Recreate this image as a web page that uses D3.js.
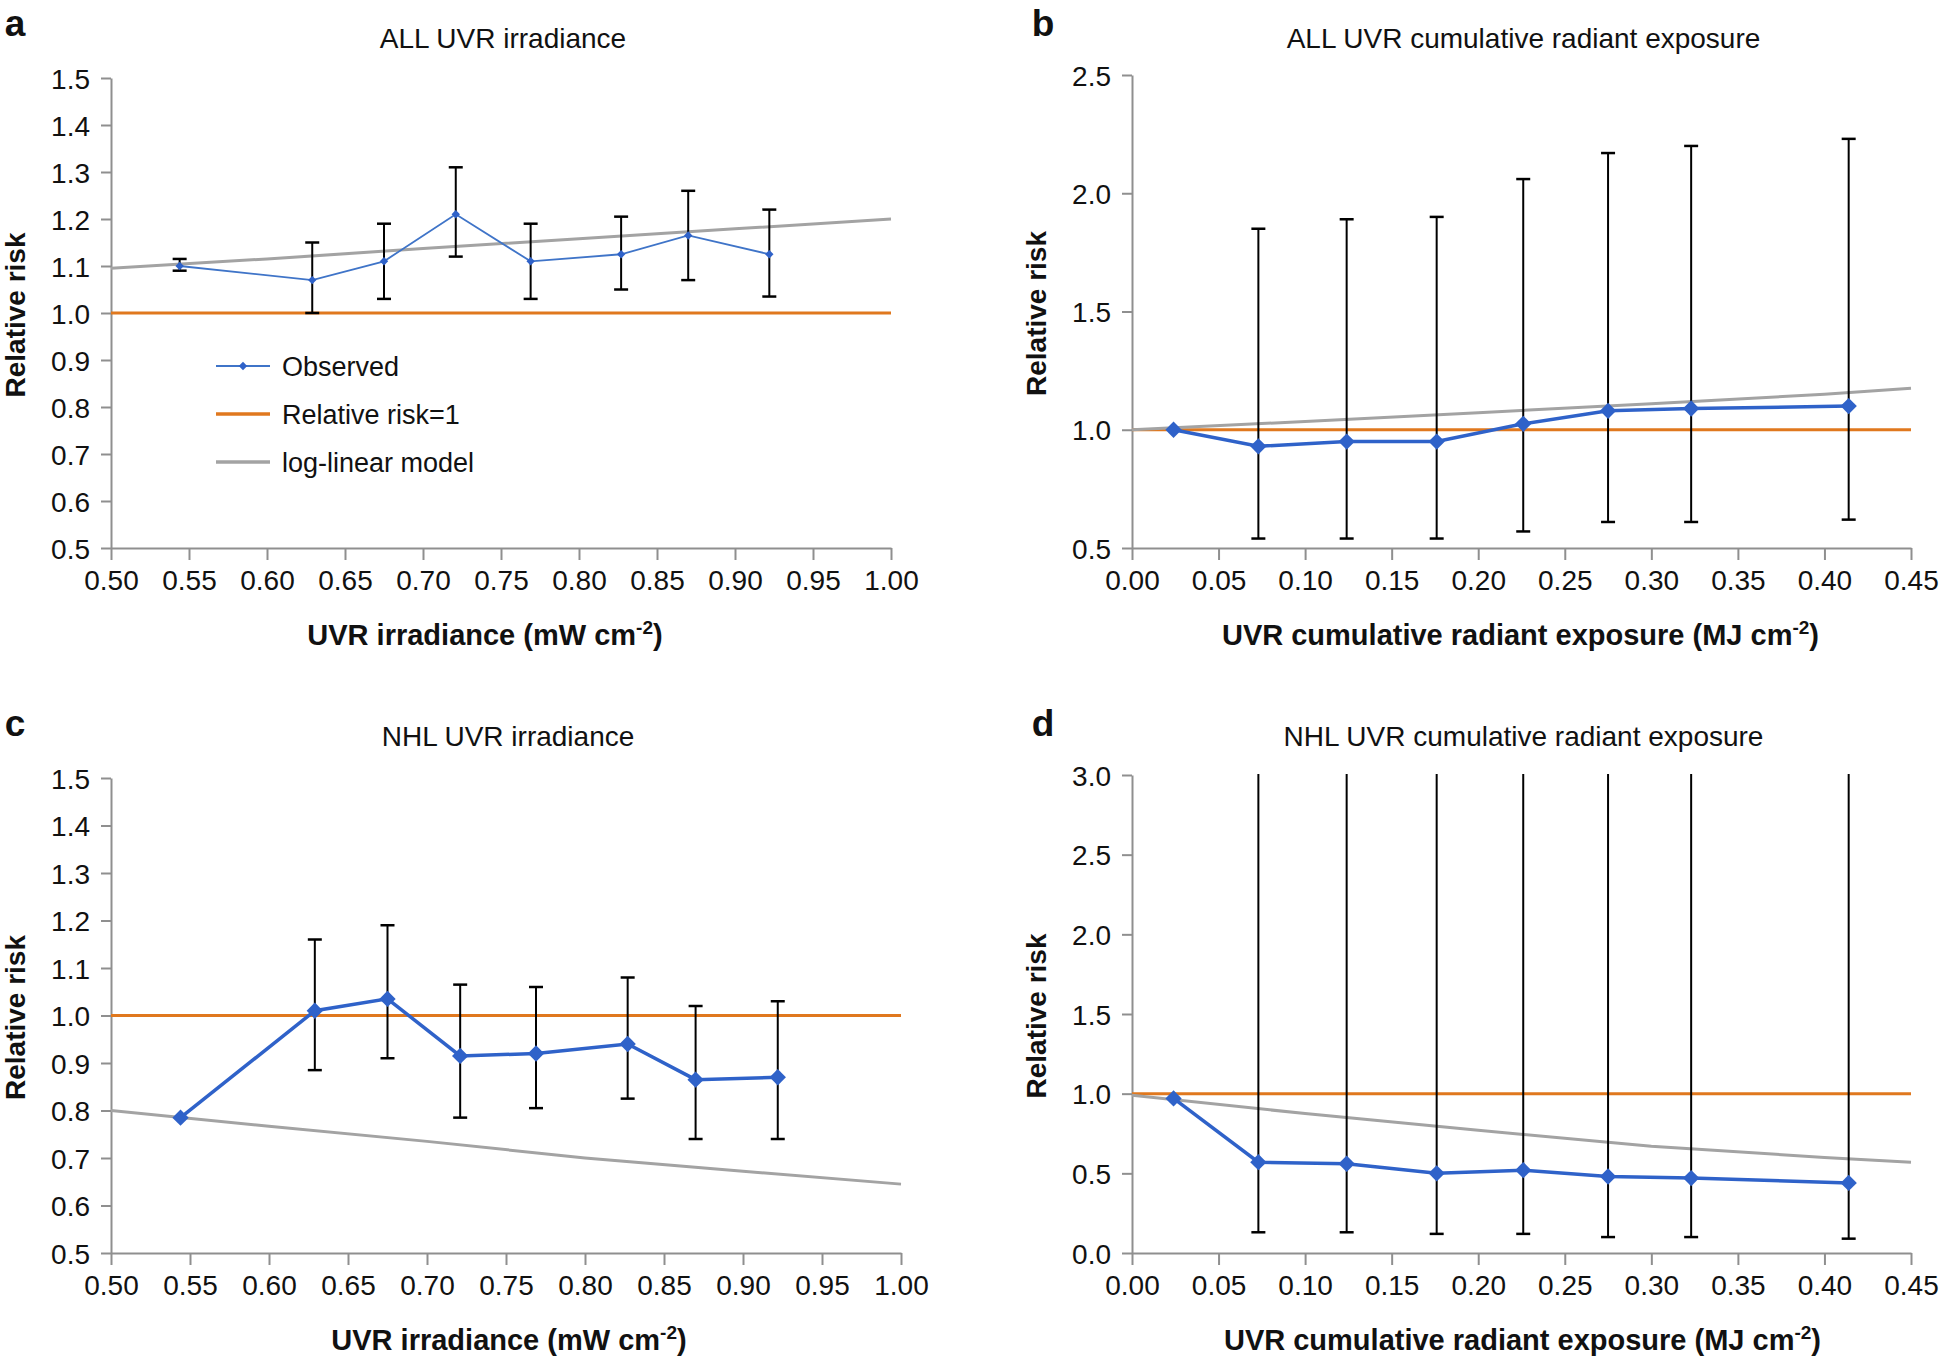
<!DOCTYPE html>
<html>
<head>
<meta charset="utf-8">
<script src="https://cdn.jsdelivr.net/npm/d3@7"></script>
<style>
  body { margin: 0; background: #fff; }
  svg { display: block; }
  .narrow { font-family: "Liberation Sans Narrow", "Arial Narrow", "Liberation Sans", sans-serif; }
  .wide { font-family: "Liberation Sans", Arial, Helvetica, sans-serif; }
</style>
</head>
<body>
<svg id="chart" width="1940" height="1364"></svg>
<script>
// ---- data ----
const irrX = [0.544, 0.629, 0.675, 0.721, 0.769, 0.827, 0.870, 0.922];
const cumX = [0.024, 0.073, 0.124, 0.176, 0.226, 0.275, 0.323, 0.414];

// a: ALL UVR irradiance
const allIrrRR = [1.10, 1.07, 1.11, 1.21, 1.11, 1.125, 1.165, 1.125];
const allIrrLo = [1.09, 1.00, 1.03, 1.12, 1.03, 1.05, 1.07, 1.035];
const allIrrHi = [1.115, 1.15, 1.19, 1.31, 1.19, 1.205, 1.26, 1.22];
const allIrrModelX = [0.50, 0.60, 0.70, 0.80, 0.90, 1.00];
const allIrrModelY = [1.095, 1.115, 1.137, 1.158, 1.179, 1.20];

// b: ALL UVR cumulative radiant exposure
const allCumRR = [1.00, 0.93, 0.95, 0.95, 1.025, 1.08, 1.09, 1.10];
const allCumLo = [null, 0.54, 0.54, 0.54, 0.57, 0.61, 0.61, 0.62];
const allCumHi = [null, 1.85, 1.89, 1.90, 2.06, 2.17, 2.20, 2.23];
const allCumModelX = [0.00, 0.10, 0.20, 0.30, 0.40, 0.45];
const allCumModelY = [1.00, 1.035, 1.072, 1.11, 1.15, 1.175];

// c: NHL UVR irradiance
const nhlIrrRR = [0.785, 1.01, 1.035, 0.915, 0.92, 0.94, 0.865, 0.87];
const nhlIrrLo = [null, 0.885, 0.91, 0.785, 0.805, 0.825, 0.74, 0.74];
const nhlIrrHi = [null, 1.16, 1.19, 1.065, 1.06, 1.08, 1.02, 1.03];
const nhlIrrModelX = [0.50, 0.60, 0.70, 0.80, 0.90, 1.00];
const nhlIrrModelY = [0.80, 0.767, 0.735, 0.70, 0.672, 0.645];

// d: NHL UVR cumulative radiant exposure (upper limits run past the axis)
const nhlCumRR = [0.97, 0.57, 0.56, 0.50, 0.52, 0.48, 0.47, 0.44];
const nhlCumLo = [null, 0.13, 0.13, 0.12, 0.12, 0.10, 0.10, 0.09];
const nhlCumHi = [null, 3.5, 3.5, 3.5, 3.5, 3.5, 3.5, 3.5];
const nhlCumModelX = [0.00, 0.10, 0.20, 0.30, 0.40, 0.45];
const nhlCumModelY = [0.99, 0.875, 0.77, 0.67, 0.60, 0.57];

const irrTicks = d3.range(0.5, 1.0001, 0.05);
const cumTicks = d3.range(0, 0.4501, 0.05);

const legendLabels = ["Observed", "Relative risk=1", "log-linear model"];

const BLUE = "#2f62c9", ORANGE = "#e0781e", GREY = "#a3a3a3", AXIS = "#8f8f8f";

const svg = d3.select("#chart");
svg.append("rect").attr("width", 1940).attr("height", 1364).attr("fill", "#fff");

const panels = [
  { letter: "a", title: "ALL UVR irradiance", box: [111, 891, 78, 548], row: 0, letterX: 15, xtDx: -16,
    xDom: [0.5, 1.0], xTicks: irrTicks, yDom: [0.5, 1.5], yTicks: d3.range(0.5, 1.5001, 0.1),
    x: irrX, rr: allIrrRR, lo: allIrrLo, hi: allIrrHi, mx: allIrrModelX, my: allIrrModelY,
    xTitle: "UVR irradiance (mW cm", thin: true, legend: true },
  { letter: "b", title: "ALL UVR cumulative radiant exposure", box: [1132, 1911, 75, 548], row: 0, letterX: 1043, xtDx: -1,
    xDom: [0, 0.45], xTicks: cumTicks, yDom: [0.5, 2.5], yTicks: d3.range(0.5, 2.5001, 0.5),
    x: cumX, rr: allCumRR, lo: allCumLo, hi: allCumHi, mx: allCumModelX, my: allCumModelY,
    xTitle: "UVR cumulative radiant exposure (MJ cm", thin: false },
  { letter: "c", title: "NHL UVR irradiance", box: [111, 901, 778, 1253], row: 1, letterX: 15, xtDx: 3,
    xDom: [0.5, 1.0], xTicks: irrTicks, yDom: [0.5, 1.5], yTicks: d3.range(0.5, 1.5001, 0.1),
    x: irrX, rr: nhlIrrRR, lo: nhlIrrLo, hi: nhlIrrHi, mx: nhlIrrModelX, my: nhlIrrModelY,
    xTitle: "UVR irradiance (mW cm", thin: false },
  { letter: "d", title: "NHL UVR cumulative radiant exposure", box: [1132, 1911, 775, 1253], row: 1, letterX: 1043, xtDx: 1,
    xDom: [0, 0.45], xTicks: cumTicks, yDom: [0, 3.0], yTicks: d3.range(0, 3.0001, 0.5),
    x: cumX, rr: nhlCumRR, lo: nhlCumLo, hi: nhlCumHi, mx: nhlCumModelX, my: nhlCumModelY,
    xTitle: "UVR cumulative radiant exposure (MJ cm", thin: false }
];

const titleY = [48, 746];
const letterY = [36, 736];

panels.forEach(p => {
  const [L, R, T, B] = p.box;
  const x = d3.scaleLinear().domain(p.xDom).range([L, R]);
  const y = d3.scaleLinear().domain(p.yDom).range([B, T]);
  const g = svg.append("g");

  // axes
  const ax = g.append("g").attr("transform", `translate(0,${B})`)
    .call(d3.axisBottom(x).tickValues(p.xTicks).tickFormat(d3.format(".2f")).tickSize(12).tickPadding(10).tickSizeOuter(0));
  const ay = g.append("g").attr("transform", `translate(${L},0)`)
    .call(d3.axisLeft(y).tickValues(p.yTicks).tickFormat(d3.format(".1f")).tickSize(10).tickPadding(11).tickSizeOuter(0));
  [ax, ay].forEach(a => {
    a.select(".domain").attr("stroke", AXIS).attr("stroke-width", 2);
    a.selectAll(".tick line").attr("stroke", AXIS).attr("stroke-width", 2);
    a.selectAll(".tick text").attr("class", "narrow").attr("font-size", 28).attr("fill", "#111");
  });
  ay.selectAll(".tick text").attr("dy", "0.36em");

  const clip = "clip-" + p.letter;
  g.append("clipPath").attr("id", clip).append("rect")
    .attr("x", L).attr("y", T - 1).attr("width", R - L + 2).attr("height", B - T + 1);
  const plot = g.append("g").attr("clip-path", `url(#${clip})`);

  // relative risk = 1
  plot.append("line")
    .attr("x1", x(p.xDom[0])).attr("x2", x(p.xDom[1]))
    .attr("y1", y(1)).attr("y2", y(1))
    .attr("stroke", ORANGE).attr("stroke-width", 3);

  // log-linear model
  plot.append("path")
    .datum(p.mx.map((v, i) => [v, p.my[i]]))
    .attr("d", d3.line().x(d => x(d[0])).y(d => y(d[1])))
    .attr("fill", "none").attr("stroke", GREY).attr("stroke-width", 3);

  // error bars
  const capW = 7;
  p.x.forEach((xv, i) => {
    if (p.lo[i] == null) return;
    const cx = x(xv);
    plot.append("line").attr("x1", cx).attr("x2", cx)
      .attr("y1", y(p.lo[i])).attr("y2", y(p.hi[i]))
      .attr("stroke", "#000").attr("stroke-width", 2);
    [p.lo[i], p.hi[i]].forEach(v => {
      if (v > p.yDom[1]) return;
      plot.append("line").attr("x1", cx - capW).attr("x2", cx + capW)
        .attr("y1", y(v)).attr("y2", y(v))
        .attr("stroke", "#000").attr("stroke-width", 2.5);
    });
  });

  // observed
  const pts = p.x.map((v, i) => [v, p.rr[i]]);
  plot.append("path").datum(pts)
    .attr("d", d3.line().x(d => x(d[0])).y(d => y(d[1])))
    .attr("fill", "none").attr("stroke", p.thin ? "#3f74c8" : BLUE)
    .attr("stroke-width", p.thin ? 1.8 : 3.5);
  const sym = d3.symbol().type(d3.symbolDiamond2).size(p.thin ? 45 : 170);
  plot.selectAll(".pt").data(pts).join("path")
    .attr("transform", d => `translate(${x(d[0])},${y(d[1])})`)
    .attr("d", sym).attr("fill", BLUE);

  // titles
  g.append("text").attr("class", "narrow")
    .attr("x", (L + R) / 2 + 2).attr("y", titleY[p.row]).attr("text-anchor", "middle")
    .attr("font-size", 28).attr("fill", "#111").text(p.title);
  g.append("text").attr("class", "wide")
    .attr("x", p.letterX).attr("y", letterY[p.row]).attr("text-anchor", "middle")
    .attr("font-size", 37).attr("font-weight", "bold").attr("fill", "#111").text(p.letter);
  g.append("text").attr("class", "wide")
    .attr("transform", `translate(${L - 86},${(T + B) / 2 + 2}) rotate(-90)`)
    .attr("text-anchor", "middle").attr("font-size", 28).attr("font-weight", "bold")
    .attr("fill", "#111").text("Relative risk");
  const xt = g.append("text").attr("class", "narrow")
    .attr("x", (L + R) / 2 + p.xtDx).attr("y", B + 97).attr("text-anchor", "middle")
    .attr("font-size", 29).attr("font-weight", "bold").attr("fill", "#111");
  xt.append("tspan").text(p.xTitle);
  xt.append("tspan").attr("dy", -11).attr("font-size", 19).text("-2");
  xt.append("tspan").attr("dy", 11).text(")");

  // legend
  if (p.legend) {
    const colors = [BLUE, ORANGE, GREY];
    const lg = g.append("g");
    legendLabels.forEach((lab, i) => {
      const ly = 366 + i * 48;
      lg.append("line").attr("x1", 216).attr("x2", 270).attr("y1", ly).attr("y2", ly)
        .attr("stroke", i === 0 ? "#3f74c8" : colors[i]).attr("stroke-width", i === 0 ? 1.8 : 3.5);
      if (i === 0) lg.append("path").attr("transform", `translate(243,${ly})`)
        .attr("d", sym).attr("fill", BLUE);
      lg.append("text").attr("class", "wide").attr("x", 282).attr("y", ly + 10)
        .attr("font-size", 27).attr("fill", "#111").text(lab);
    });
  }
});
</script>
</body>
</html>
